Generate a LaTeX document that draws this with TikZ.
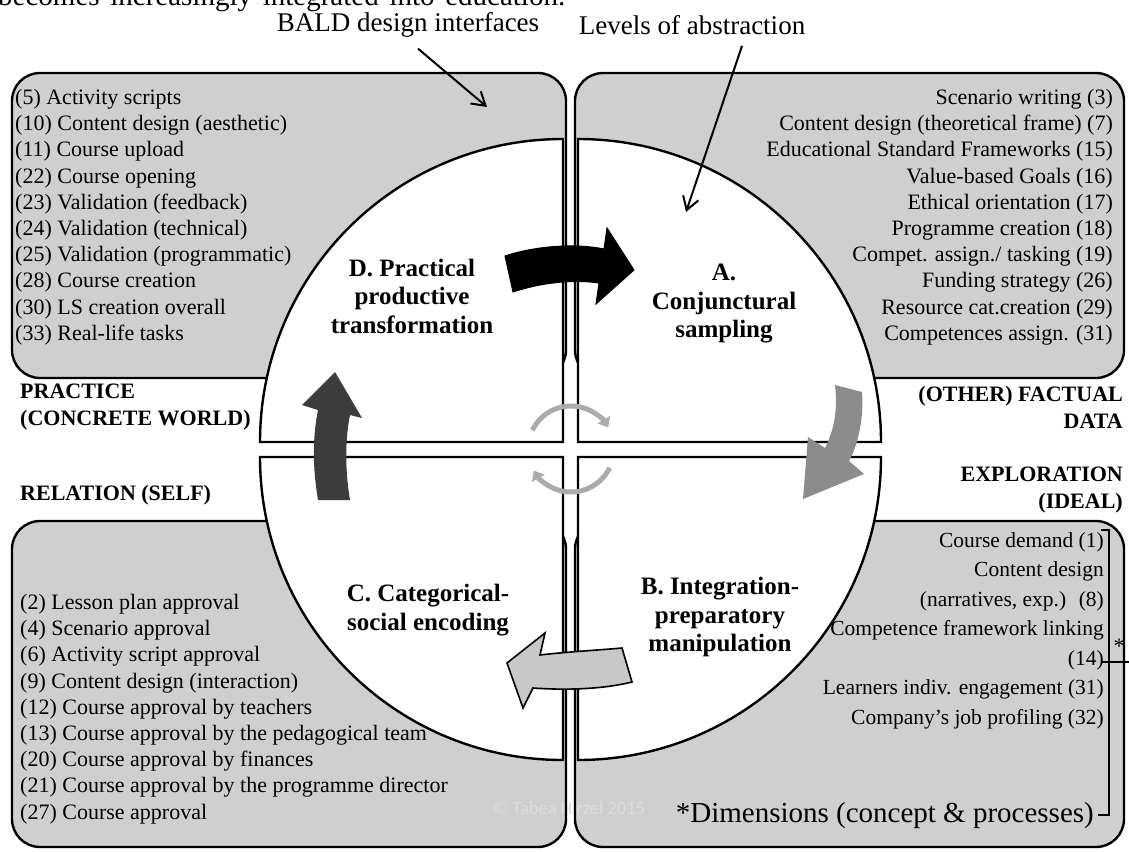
\documentclass[tikz,border=0pt]{standalone}
\usepackage{fontspec}
\setmainfont{Liberation Serif}
\newfontfamily\wmfont{Carlito}
\usetikzlibrary{arrows.meta, positioning}
\definecolor{boxgray}{HTML}{CFCFCF}
\definecolor{cycgray}{HTML}{ABABAB}
\definecolor{midgray}{HTML}{8C8C8C}
\definecolor{darkgray}{HTML}{3C3C3C}
\definecolor{lightgray}{HTML}{C8C8C8}
\definecolor{wmgray}{HTML}{DDDDDD}

\begin{document}
\begin{tikzpicture}[x=1pt, y=-1pt,
  box/.style={line width=2.4pt, rounded corners=28pt},
  quad/.style={draw=black, line width=2.4pt, fill=white},
  lst/.style={font=\fontsize{22}{26.2}\selectfont, inner sep=0pt},
  side/.style={font=\fontsize{22}{27}\selectfont\bfseries, inner sep=0pt},
  phase/.style={font=\fontsize{25}{28.5}\selectfont\bfseries, align=center, inner sep=0pt},
  ttl/.style={font=\fontsize{27}{30}\selectfont, inner sep=0pt},
  ptr/.style={line width=2pt, -{Straight Barb[length=13pt, width=16pt]}},
  cyc/.style={line width=5pt, draw=cycgray, -{Triangle[length=9pt, width=14pt]}},
  brk/.style={line width=2.4pt}]
  \useasboundingbox (0,0) rectangle (1129,851);

  % cut-off line of the page above
  \node[anchor=base west, font=\fontsize{29}{32}\selectfont, inner sep=0pt] (cut) at (-2,6) {\makebox[567pt][s]{becomes increasingly integrated into education.}};

  % grey boxes
  \fill[box, boxgray] (12,73) rectangle (566,378);
  \fill[box, boxgray] (575,73) rectangle (1124,378);
  \fill[box, boxgray] (12,521) rectangle (566,847);
  \fill[box, boxgray] (575,521) rectangle (1124,847);
  \node[font=\wmfont\fontsize{18.5}{20}\selectfont, text=wmgray] (wm) at (569,808) {© Tabea Hirzel 2015};
  \draw[box] (12,73) rectangle (566,378);
  \draw[box] (575,73) rectangle (1124,378);
  \draw[box] (12,521) rectangle (566,847);
  \draw[box] (575,521) rectangle (1124,847);

  % circle quarters
  \draw[quad] (563,442) -- (260,442) arc[start angle=180, end angle=270, radius=303] -- cycle;
  \draw[quad] (578,442) -- (881,442) arc[start angle=0, end angle=-90, radius=303] -- cycle;
  \draw[quad] (563,457) -- (260,457) arc[start angle=180, end angle=90, radius=303] -- cycle;
  \draw[quad] (578,457) -- (881,457) arc[start angle=0, end angle=90, radius=303] -- cycle;

  % lists
  \node[lst, anchor=north west, align=left] (practlist) at (15,89) {(5) Activity scripts\\(10) Content design (aesthetic)\\(11) Course upload\\(22) Course opening\\(23) Validation (feedback)\\(24) Validation (technical)\\(25) Validation (programmatic)\\(28) Course creation\\(30) LS creation overall\\(33) Real-life tasks};
  \node[lst, anchor=north east, align=right] (factlist) at (1113,89) {Scenario writing (3)\\Content design (theoretical frame) (7)\\Educational Standard Frameworks (15)\\Value-based Goals (16)\\Ethical orientation (17)\\Programme creation (18)\\Compet. assign./ tasking (19)\\Funding strategy (26)\\Resource cat.creation (29)\\Competences assign. (31)};
  \node[lst, anchor=north west, align=left] (rellist) at (20,594) {(2) Lesson plan approval\\(4) Scenario approval\\(6) Activity script approval\\(9) Content design (interaction)\\(12) Course approval by teachers\\(13) Course approval by the pedagogical team\\(20) Course approval by finances\\(21) Course approval by the programme director\\(27) Course approval};
  \node[lst, anchor=north east, align=right, font=\fontsize{21.5}{29.5}\selectfont] (explist) at (1104,532) {Course demand (1)\\Content design\\(narratives, exp.)~ (8)\\Competence framework linking\\(14)\\Learners indiv. engagement (31)\\Company's job profiling (32)};

  % side labels
  \node[side, anchor=west, align=left] (practice) at (20,407) {PRACTICE\\(CONCRETE WORLD)};
  \node[side, anchor=east, align=right] (factual) at (1123,407) {(OTHER) FACTUAL\\DATA};
  \node[side, anchor=west] (relation) at (20,495) {RELATION (SELF)};
  \node[side, anchor=east, align=right] (explor) at (1123,490) {EXPLORATION\\(IDEAL)};

  % phases
  \node[phase] (phD) at (412,296) {D. Practical\\productive\\transformation};
  \node[phase] (phA) at (724,304) {A.\\Conjunctural\\sampling};
  \node[phase] (phB) at (720,617) {B. Integration-\\preparatory\\manipulation};
  \node[phase] (phC) at (428,610) {C. Categorical-\\social encoding};

  % big arrows
  \filldraw[line width=1pt] (505,256) .. controls (535,246) and (575,243) .. (604,249) -- (607,228) -- (634,270) -- (596,304) -- (599,283) .. controls (572,279) and (540,283) .. (513,292) -- cycle;
  \fill[midgray] (835,385) -- (862,392) .. controls (864,415) and (859,443) .. (849,461) -- (864,474) -- (803,499) -- (808,437) -- (825,448) .. controls (834,430) and (838,410) .. (835,385) -- cycle;
  \filldraw[fill=lightgray, line width=1.6pt] (622,648) -- (632,682) .. controls (600,690) and (560,690) .. (533,688) -- (523,708) -- (507,663) -- (545,633) -- (540,655) .. controls (565,652) and (600,650) .. (622,648) -- cycle;
  \fill[darkgray] (318,500) -- (350,500) .. controls (345,470) and (345,440) .. (350,415) -- (362,418) -- (335,372) -- (302,405) -- (318,410) .. controls (312,440) and (313,470) .. (318,500) -- cycle;

  % small cycle in the centre
  \coordinate (ctr) at (571,449);
  \draw[cyc] (ctr) ++(206:43) arc[start angle=206, end angle=330, radius=43];
  \draw[cyc] (ctr) ++(26:43) arc[start angle=26, end angle=150, radius=43];

  % top labels and pointers
  \node[ttl] (bald) at (408,25) {BALD design interfaces};
  \node[ttl] (levels) at (692,25) {Levels of abstraction};
  \coordinate (baldtip) at (487,107);
  \coordinate (levtip) at (686,212);
  \draw[ptr] (bald.south) ++(10,11) -- (baldtip);
  \draw[ptr] (levels.south) ++(50,11) -- (levtip);

  % dimensions bracket
  \node[anchor=base east, font=\fontsize{29}{32}\selectfont, inner sep=0pt] (dims) at (1094,822) {*Dimensions (concept \& processes)};
  \coordinate (brkt) at (1109,530);
  \draw[brk] ([xshift=4pt]dims.east) -- (dims.east -| brkt) -- (brkt) -- ++(-8,0);
  \draw[brk] (1102,662) -- (1129,662);
  \node[font=\fontsize{22}{24}\selectfont, inner sep=0pt] (star) at (1119,646) {*};
\end{tikzpicture}
\end{document}
